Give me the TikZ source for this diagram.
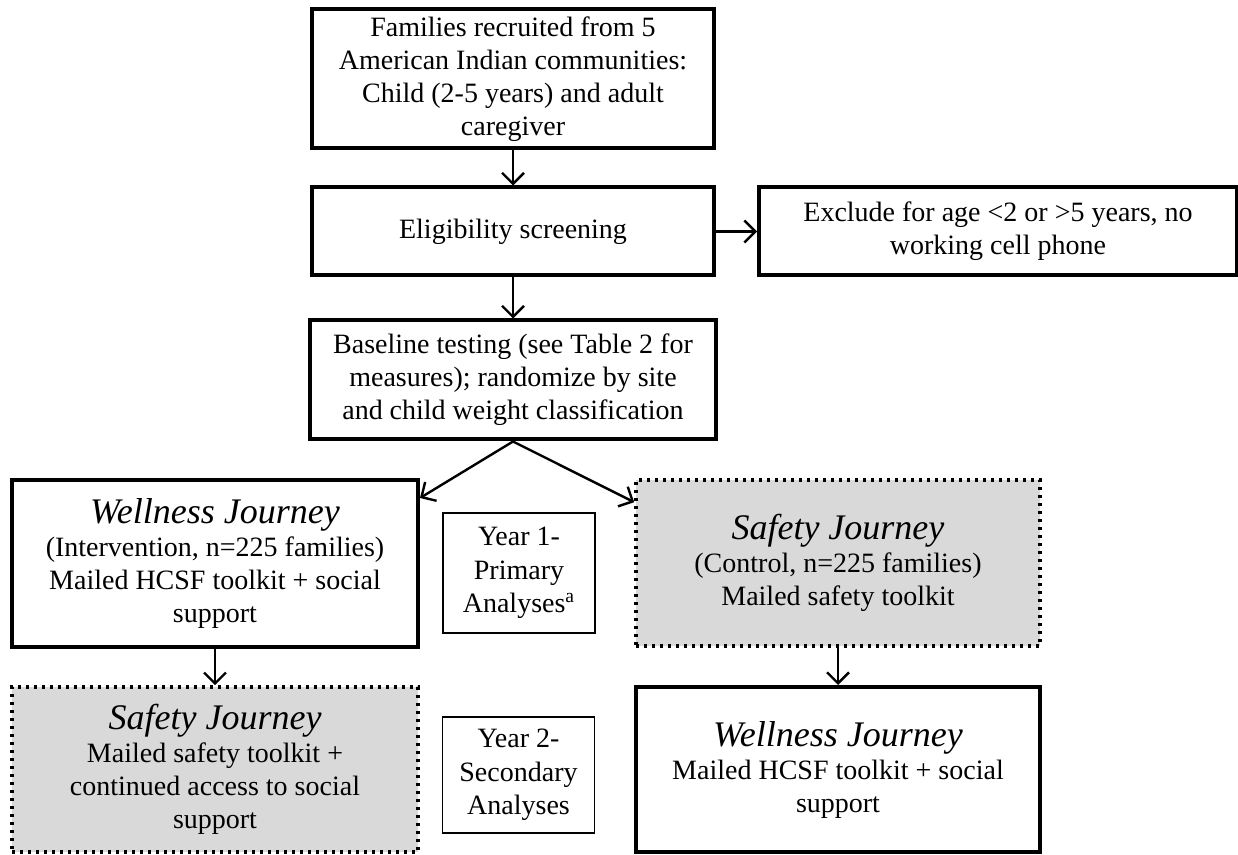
\documentclass[tikz,border=0pt]{standalone}
\usepackage{fontspec}
\setmainfont{Liberation Serif}
\usetikzlibrary{arrows.meta,positioning,calc}
\definecolor{safegray}{RGB}{217,217,217}
\newcommand{\jname}[1]{{\fontsize{18}{20}\selectfont\itshape #1}}
\tikzset{
  box/.style     = {draw=black,line width=2pt,fill=white,align=center,inner sep=3pt,
                    font=\fontsize{14}{16.5}\selectfont},
  dotbox/.style  = {box,line width=1.8pt,dash pattern=on 1.5pt off 2.5pt,fill=safegray},
  yearbox/.style = {draw=black,line width=0.8pt,align=center,inner sep=2pt,
                    minimum width=76pt,font=\fontsize{14}{16.8}\selectfont},
  arrow/.style   = {-{Straight Barb[length=5.5pt,width=11pt]},line width=1.2pt},
}
\begin{document}
\begin{tikzpicture}[x=0.5pt,y=-0.5pt]
  \useasboundingbox (0,0) rectangle (1238,855);
  % top column
  \node[box,minimum width=201pt,minimum height=69.5pt] (fam) at (513,79)
       {Families recruited from 5\\American Indian communities:\\Child (2-5 years) and adult\\caregiver};
  \node[box,minimum width=201pt,minimum height=44pt,below=17.5pt of fam] (elig) {Eligibility screening};
  \node[box,minimum width=239pt,minimum height=44pt,right=20.5pt of elig] (excl)
       {Exclude for age \textless2 or \textgreater5 years, no\\working cell phone};
  \node[box,minimum width=203pt,minimum height=59.5pt,below=20.5pt of elig] (base)
       {Baseline testing (see Table 2 for\\measures); randomize by site\\and child weight classification};
  % year 1
  \node[box,minimum width=203pt,minimum height=83.5pt] (wellL) at (215,563.5)
       {\jname{Wellness Journey}\\(Intervention, n=225 families)\\Mailed HCSF toolkit + social\\support};
  \node[yearbox,minimum height=60pt] (yr1) at (519,573) {Year 1-\\Primary\\Analyses\textsuperscript{a}};
  \node[dotbox,minimum width=202pt,minimum height=83pt] (safR) at (838,563)
       {\jname{Safety Journey}\\(Control, n=225 families)\\Mailed safety toolkit};
  % year 2
  \node[dotbox,minimum width=203pt,minimum height=82.5pt] (safL) at (215,769.5)
       {\jname{Safety Journey}\\Mailed safety toolkit +\\continued access to social\\support};
  \node[yearbox,minimum height=58pt] (yr2) at (518.5,775) {Year 2-\\Secondary\\Analyses};
  \node[box,minimum width=202pt,minimum height=82.5pt] (wellR) at (838,769.5)
       {\jname{Wellness Journey}\\Mailed HCSF toolkit + social\\support};
  \coordinate (toL) at ($(wellL.north east)+(0,20)$);
  \coordinate (toR) at ($(safR.north west)+(0,24)$);
  \draw[arrow] (fam) -- (elig);
  \draw[arrow] (elig) -- (excl);
  \draw[arrow] (elig) -- (base);
  \draw[arrow] (base.south) -- (toL);
  \draw[arrow] (base.south) -- (toR);
  \draw[arrow] (wellL) -- (safL);
  \draw[arrow] (safR) -- (wellR);
\end{tikzpicture}
\end{document}
